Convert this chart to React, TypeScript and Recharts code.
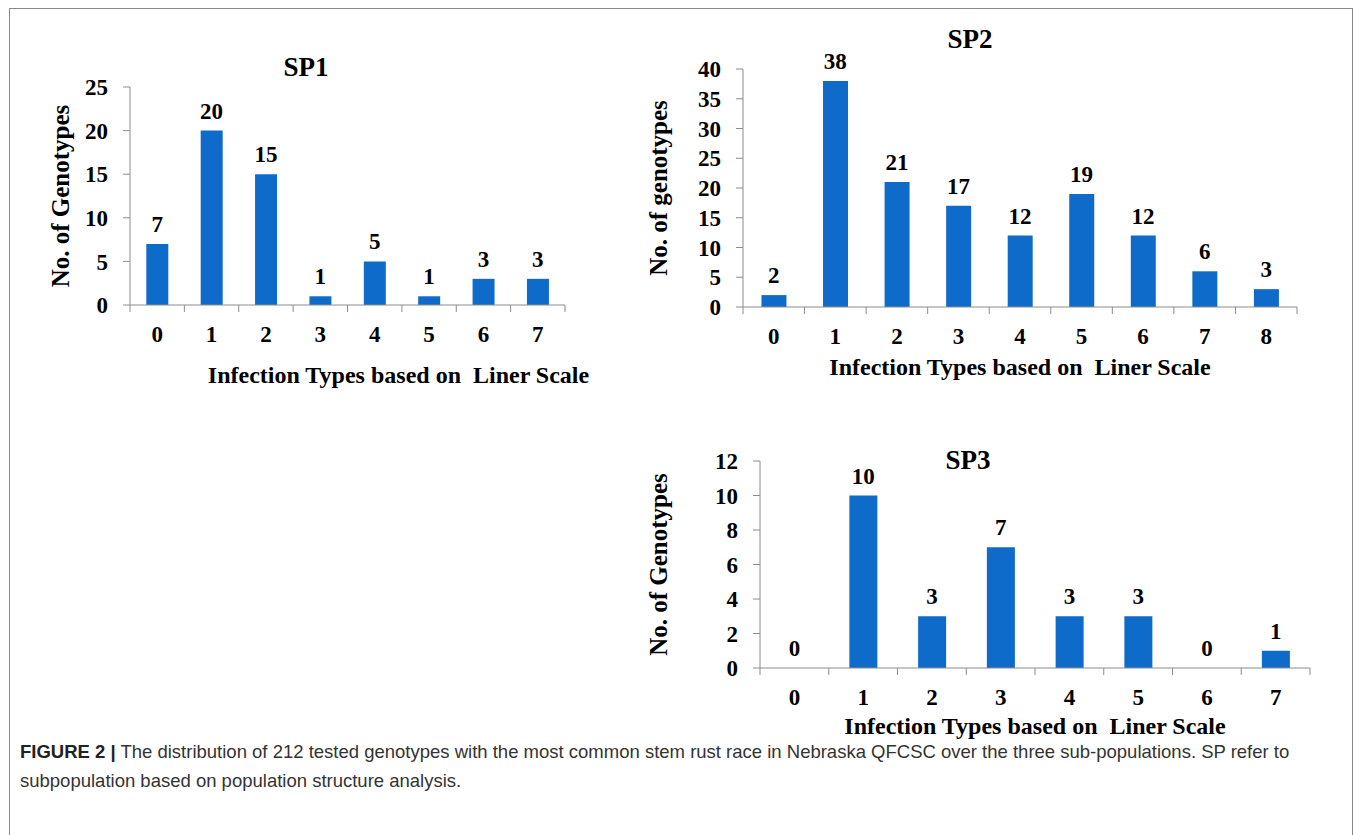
import { ComposedChart, Bar, Line, XAxis, YAxis, LabelList } from 'recharts';

// infection type categories and genotype counts per sub-population
const sp1Types = ['0', '1', '2', '3', '4', '5', '6', '7'];
const sp1Counts = [7, 20, 15, 1, 5, 1, 3, 3];
const sp1YTicks = [0, 5, 10, 15, 20, 25];

const sp2Types = ['0', '1', '2', '3', '4', '5', '6', '7', '8'];
const sp2Counts = [2, 38, 21, 17, 12, 19, 12, 6, 3];
const sp2YTicks = [0, 5, 10, 15, 20, 25, 30, 35, 40];

const sp3Types = ['0', '1', '2', '3', '4', '5', '6', '7'];
const sp3Counts = [0, 10, 3, 7, 3, 3, 0, 1];
const sp3YTicks = [0, 2, 4, 6, 8, 10, 12];

const BAR_COLOR = '#0E6BC9';
const AXIS_COLOR = '#8c8c8c';
const SERIF = '"Liberation Serif", "Times New Roman", serif';
const SANS = '"Liberation Sans", Arial, Helvetica, sans-serif';

type PanelProps = {
  types: string[];
  counts: number[];
  yTicks: number[];
  left: number;
  top: number;
  yw: number;
  mt: number;
  plotW: number;
  plotH: number;
  title: string;
  titleX: number;
  titleY: number;
  yTitle: string;
  yTitleX: number;
  xTitleDx: number;
  xTitleDy: number;
};

const Panel = (p: PanelProps) => {
  const data = p.types.map((t, i) => ({ type: t, count: p.counts[i] }));
  const band = p.plotW / p.types.length;
  const mr = 40;
  const xh = 100;
  const width = p.yw + p.plotW + mr;
  const height = p.mt + p.plotH + xh;

  const renderXTick = (props: any) => {
    const { x, y, payload, index } = props;
    return (
      <g>
        <line x1={x - band / 2} x2={x - band / 2} y1={y} y2={y + 7} stroke={AXIS_COLOR} />
        {index === p.types.length - 1 && (
          <line x1={x + band / 2} x2={x + band / 2} y1={y} y2={y + 7} stroke={AXIS_COLOR} />
        )}
        <text x={x} y={y + 37} textAnchor="middle" fontFamily={SERIF} fontWeight="bold" fontSize={23} fill="#000">
          {payload.value}
        </text>
      </g>
    );
  };

  const renderYTitle = (props: any) => {
    const vb = props.viewBox;
    const cx = p.yTitleX - p.left;
    const cy = vb.y + vb.height / 2;
    return (
      <text
        x={cx}
        y={cy}
        transform={`rotate(-90 ${cx} ${cy})`}
        textAnchor="middle"
        dominantBaseline="central"
        fontFamily={SERIF}
        fontWeight="bold"
        fontSize={25}
        fill="#000"
      >
        {p.yTitle}
      </text>
    );
  };

  const renderXTitle = (props: any) => {
    const vb = props.viewBox;
    return (
      <text
        x={vb.x + vb.width / 2 + p.xTitleDx}
        y={vb.y + p.xTitleDy}
        textAnchor="middle"
        fontFamily={SERIF}
        fontWeight="bold"
        fontSize={24}
        fill="#000"
        style={{ whiteSpace: 'pre' }}
      >
        Infection Types based on  Liner Scale
      </text>
    );
  };

  return (
    <>
      <div
        style={{
          position: 'absolute',
          left: p.titleX,
          top: p.titleY,
          transform: 'translate(-50%, -50%)',
          fontFamily: SERIF,
          fontWeight: 'bold',
          fontSize: 27,
          color: '#000',
          whiteSpace: 'nowrap',
        }}
      >
        {p.title}
      </div>
      <div style={{ position: 'absolute', left: p.left, top: p.top }}>
        <ComposedChart
          width={width}
          height={height}
          data={data}
          margin={{ top: p.mt, right: mr, bottom: 0, left: 0 }}
          barCategoryGap="30%"
        >
          <XAxis
            dataKey="type"
            height={xh}
            stroke={AXIS_COLOR}
            tickLine={false}
            tickSize={0}
            tickMargin={0}
            interval={0}
            tick={renderXTick}
            label={renderXTitle}
          />
          <YAxis
            width={p.yw}
            domain={[0, p.yTicks[p.yTicks.length - 1]]}
            ticks={p.yTicks}
            interval={0}
            stroke={AXIS_COLOR}
            tickSize={7}
            tickMargin={15}
            tick={{ fontFamily: SERIF, fontWeight: 'bold', fontSize: 23, fill: '#000' }}
            label={renderYTitle}
          />
          <Bar dataKey="count" fill={BAR_COLOR} isAnimationActive={false} />
          {/* invisible series that carries the value labels, so zero counts get a label too */}
          <Line
            dataKey="count"
            stroke="none"
            dot={false}
            activeDot={false}
            isAnimationActive={false}
          >
            <LabelList
              dataKey="count"
              position="top"
              offset={12}
              style={{ fontFamily: SERIF, fontWeight: 'bold', fontSize: 23, fill: '#000' }}
            />
          </Line>
        </ComposedChart>
      </div>
    </>
  );
};

export default function App() {
  return (
    <div
      style={{
        position: 'absolute',
        left: 0,
        top: 0,
        width: 1355,
        height: 835,
        background: '#fff',
        overflow: 'hidden',
      }}
    >
      <div
        style={{
          position: 'absolute',
          left: 9,
          top: 8,
          width: 1342,
          height: 900,
          border: '1.5px solid #8a8a8a',
        }}
      />
      <Panel
        types={sp1Types}
        counts={sp1Counts}
        yTicks={sp1YTicks}
        left={20}
        top={40}
        yw={110}
        mt={47}
        plotW={435}
        plotH={218}
        title="SP1"
        titleX={306}
        titleY={67}
        yTitle="No. of Genotypes"
        yTitleX={60}
        xTitleDx={51}
        xTitleDy={78}
      />
      <Panel
        types={sp2Types}
        counts={sp2Counts}
        yTicks={sp2YTicks}
        left={620}
        top={20}
        yw={123}
        mt={49}
        plotW={554}
        plotH={238}
        title="SP2"
        titleX={970}
        titleY={39}
        yTitle="No. of genotypes"
        yTitleX={658}
        xTitleDx={0}
        xTitleDy={68}
      />
      <Panel
        types={sp3Types}
        counts={sp3Counts}
        yTicks={sp3YTicks}
        left={620}
        top={420}
        yw={140}
        mt={41}
        plotW={550}
        plotH={207}
        title="SP3"
        titleX={968}
        titleY={460}
        yTitle="No. of Genotypes"
        yTitleX={658}
        xTitleDx={0}
        xTitleDy={66}
      />
      <div
        style={{
          position: 'absolute',
          left: 20,
          top: 737,
          width: 1325,
          fontFamily: SANS,
          fontSize: 18.5,
          lineHeight: '29px',
          color: '#333',
        }}
      >
        <b style={{ color: '#222' }}>FIGURE 2 |</b> The distribution of 212 tested genotypes with the most common stem
        rust race in Nebraska QFCSC over the three sub-populations. SP refer to
        <br />
        subpopulation based on population structure analysis.
      </div>
    </div>
  );
}
